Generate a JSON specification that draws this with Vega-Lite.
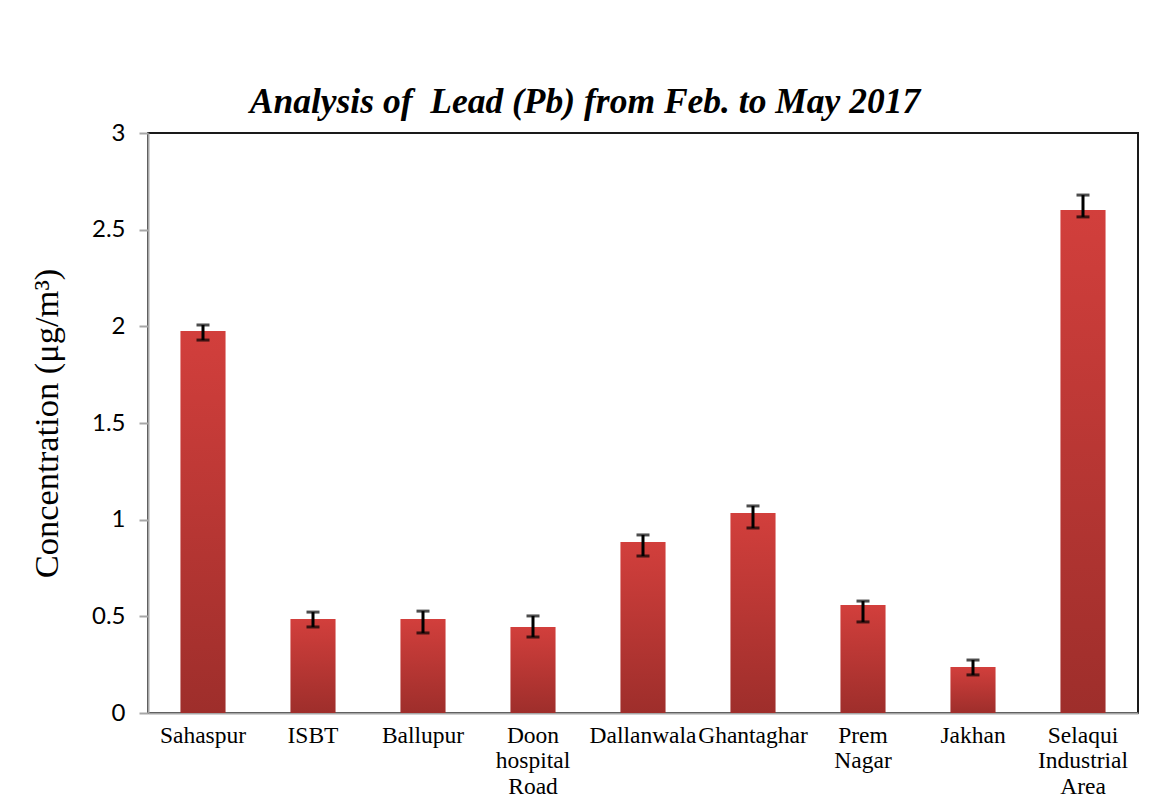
{
  "$schema": "https://vega.github.io/schema/vega-lite/v6.json",
  "width": 990,
  "height": 580,
  "autosize": {"type": "none"},
  "padding": {"left": 148, "top": 133, "right": 14, "bottom": 98},
  "background": "white",
  "title": {
    "text": "Analysis of \u00a0Lead (Pb) from Feb. to May 2017",
    "font": "Liberation Serif",
    "fontSize": 35.5,
    "fontWeight": "bold",
    "fontStyle": "italic",
    "color": "black",
    "anchor": "middle",
    "dx": -58,
    "offset": 1
  },
  "data": {
    "values": [
      {"site": "Sahaspur", "value": 1.976, "lo": 1.929, "hi": 2.007},
      {"site": "ISBT", "value": 0.486, "lo": 0.445, "hi": 0.522},
      {"site": "Ballupur", "value": 0.486, "lo": 0.414, "hi": 0.527},
      {"site": "Doon\nhospital\nRoad", "value": 0.445, "lo": 0.393, "hi": 0.502},
      {"site": "Dallanwala", "value": 0.884, "lo": 0.812, "hi": 0.921},
      {"site": "Ghantaghar", "value": 1.034, "lo": 0.957, "hi": 1.071},
      {"site": "Prem\nNagar", "value": 0.559, "lo": 0.471, "hi": 0.579},
      {"site": "Jakhan", "value": 0.238, "lo": 0.197, "hi": 0.274},
      {"site": "Selaqui\nIndustrial\nArea", "value": 2.602, "lo": 2.566, "hi": 2.679}
    ]
  },
  "encoding": {
    "x": {
      "field": "site",
      "type": "nominal",
      "sort": null,
      "scale": {"paddingInner": 0.59, "paddingOuter": 0.295},
      "axis": {
        "title": null,
        "labelAngle": 0,
        "labelExpr": "split(datum.label, '\\n')",
        "labelFont": "Liberation Serif",
        "labelFontSize": 23.5,
        "labelColor": "black",
        "labelLineHeight": 25.5,
        "labelPadding": 10,
        "labelBaseline": "top",
        "labelLimit": 200,
        "ticks": false,
        "domainColor": "#a6a6a6",
        "domainWidth": 2
      }
    }
  },
  "layer": [
    {
      "mark": {
        "type": "bar",
        "color": {
          "gradient": "linear",
          "x1": 0, "y1": 0, "x2": 0, "y2": 1,
          "stops": [
            {"offset": 0, "color": "#d23f3c"},
            {"offset": 1, "color": "#9e2e2b"}
          ]
        }
      },
      "encoding": {
        "y": {
          "field": "value",
          "type": "quantitative",
          "scale": {"domain": [0, 3]},
          "axis": {
            "title": "Concentration (μg/m³)",
            "titleFont": "Liberation Serif",
            "titleFontSize": 34.5,
            "titleFontWeight": "normal",
            "titleColor": "black",
            "titlePadding": 27,
            "values": [0, 0.5, 1, 1.5, 2, 2.5, 3],
            "format": ".1~f",
            "labelFont": "Lato",
            "labelFontSize": 24,
            "labelColor": "black",
            "labelPadding": 14,
            "tickSize": 9,
            "tickColor": "#a6a6a6",
            "tickWidth": 2,
            "domainColor": "#a6a6a6",
            "domainWidth": 2,
            "grid": false
          }
        }
      }
    },
    {
      "mark": {"type": "rule", "color": "black", "strokeWidth": 3},
      "encoding": {
        "y": {"field": "lo", "type": "quantitative"},
        "y2": {"field": "hi"}
      }
    },
    {
      "mark": {"type": "tick", "color": "black", "thickness": 3, "size": 13},
      "encoding": {"y": {"field": "lo", "type": "quantitative"}}
    },
    {
      "mark": {"type": "tick", "color": "black", "thickness": 3, "size": 13},
      "encoding": {"y": {"field": "hi", "type": "quantitative"}}
    }
  ],
  "config": {
    "view": {"stroke": "#1a1a1a", "strokeWidth": 2}
  }
}
